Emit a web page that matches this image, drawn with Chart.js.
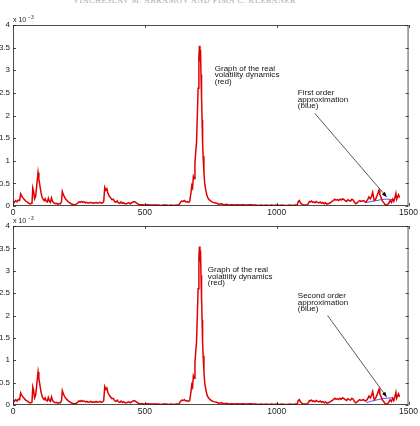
<!DOCTYPE html>
<html><head><meta charset="utf-8">
<script src="https://cdn.jsdelivr.net/npm/chart.js@4.4.1/dist/chart.umd.min.js"></script>
<style>
html,body{margin:0;padding:0;background:#fff;width:420px;height:426px;overflow:hidden;position:relative;}
canvas{position:absolute;left:0;}
#hdr{position:absolute;left:73px;top:-4px;font:8px "Liberation Serif",serif;color:#aaa;letter-spacing:0.6px;white-space:nowrap;}
</style></head><body>
<div id="hdr">VIACHESLAV M. ABRAMOV AND FIMA C. KLEBANER</div>
<div style="position:absolute;left:0;top:0;width:420px;height:218px"><canvas id="c1"></canvas></div>
<div style="position:absolute;left:0;top:213px;width:420px;height:213px"><canvas id="c2"></canvas></div>
<script>
// time index (days)
const days = [0,5,10,15,20,25,29,33,38,42,48,53,58,63,68,72,75,78,82,86,90,95,98,102,106,110,114,118,122,126,130,134,138,142,146,150,155,160,165,170,175,180,184,187,191,195,200,205,210,215,220,225,230,235,240,245,250,255,260,265,270,275,280,285,290,295,300,305,310,315,320,325,330,335,340,344,348,352,356,360,365,370,375,380,385,390,395,400,405,410,415,420,425,430,435,440,445,450,455,460,465,470,475,480,490,500,510,520,530,540,550,560,570,580,590,600,610,620,630,635,640,645,650,655,660,665,670,675,678,681,684,687,690,693,696,699,702,705,707,709,711,713,715,717,719,721,724,727,731,736,741,746,752,758,765,772,780,790,800,810,820,830,840,850,860,870,880,890,900,910,920,930,940,950,960,970,980,990,1000,1010,1020,1030,1040,1050,1060,1070,1078,1082,1086,1090,1095,1100,1108,1115,1120,1124,1128,1132,1136,1140,1145,1150,1155,1160,1165,1170,1175,1180,1185,1190,1195,1200,1205,1210,1215,1220,1225,1230,1235,1240,1245,1250,1255,1260,1265,1270,1275,1280,1285,1290,1295,1300,1305,1310,1315,1320,1325,1330,1335,1340,1345,1350,1355,1360,1364,1367,1370,1375,1380,1385,1388,1391,1395,1400,1405,1410,1415,1420,1425,1430,1435,1440,1444,1448,1452,1455,1458,1462,1466];
// real volatility (units of 1e-3)
const volatility = [0.10,0.08,0.12,0.09,0.13,0.12,0.27,0.22,0.18,0.15,0.11,0.09,0.07,0.05,0.05,0.06,0.40,0.33,0.16,0.22,0.45,0.74,0.60,0.45,0.30,0.20,0.15,0.12,0.16,0.10,0.09,0.17,0.10,0.08,0.18,0.10,0.07,0.05,0.06,0.04,0.05,0.05,0.10,0.32,0.25,0.20,0.15,0.12,0.09,0.07,0.05,0.04,0.03,0.03,0.04,0.06,0.09,0.08,0.10,0.08,0.09,0.07,0.08,0.06,0.07,0.08,0.06,0.07,0.06,0.08,0.06,0.07,0.08,0.06,0.07,0.10,0.41,0.35,0.38,0.28,0.22,0.18,0.14,0.15,0.10,0.08,0.11,0.07,0.06,0.09,0.06,0.07,0.05,0.05,0.06,0.07,0.05,0.07,0.09,0.10,0.08,0.06,0.04,0.03,0.03,0.02,0.03,0.02,0.02,0.02,0.02,0.01,0.02,0.02,0.01,0.02,0.01,0.02,0.03,0.08,0.11,0.10,0.12,0.09,0.10,0.08,0.10,0.30,0.45,0.40,0.65,0.60,0.95,1.20,1.40,2.00,2.60,3.30,3.54,3.20,3.45,2.90,2.40,1.90,1.40,1.10,0.75,0.50,0.35,0.22,0.16,0.13,0.10,0.08,0.07,0.06,0.04,0.05,0.03,0.04,0.02,0.03,0.02,0.03,0.02,0.03,0.02,0.02,0.03,0.02,0.02,0.01,0.02,0.01,0.02,0.01,0.02,0.01,0.02,0.01,0.02,0.01,0.01,0.02,0.01,0.02,0.03,0.10,0.12,0.07,0.04,0.03,0.02,0.03,0.05,0.10,0.09,0.11,0.08,0.09,0.07,0.10,0.08,0.07,0.09,0.06,0.08,0.05,0.07,0.04,0.05,0.06,0.08,0.10,0.12,0.15,0.13,0.14,0.12,0.15,0.13,0.16,0.14,0.12,0.10,0.14,0.12,0.11,0.15,0.13,0.08,0.05,0.07,0.10,0.12,0.10,0.11,0.12,0.09,0.10,0.14,0.20,0.16,0.22,0.30,0.20,0.12,0.15,0.22,0.30,0.35,0.25,0.20,0.12,0.08,0.04,0.02,0.03,0.06,0.12,0.08,0.15,0.10,0.18,0.28,0.15,0.20,0.25,0.18];
// first order approximation (blue)
const firstDays = [1335,1350,1365,1380,1395,1410,1425,1440];
const firstApprox = [0.07,0.09,0.11,0.12,0.14,0.15,0.15,0.14];
// second order approximation (blue)
const secondDays = [1340,1355,1370,1385,1400,1415,1430,1442];
const secondApprox = [0.05,0.08,0.10,0.12,0.14,0.15,0.16,0.16];
// tick labels
const xTicks = [0,500,1000,1500];
const yTicks = [0,0.5,1,1.5,2,2.5,3,3.5,4];
// annotation text
const redLabel = ["Graph of the real","volatility dynamics","(red)"];
const firstLabel = ["First order","approximation","(blue)"];
const secondLabel = ["Second order","approximation","(blue)"];

const FONT = '"Liberation Sans", Arial, sans-serif';

function pts(xv, yv){ return xv.map((x,i)=>({x:x, y:yv[i]})); }

function framePlugin(cfg){
  return {
    id:'frame',
    afterDraw(chart){
      const {ctx, chartArea:a, scales:{x,y}} = chart;
      ctx.save();
      ctx.strokeStyle='#222'; ctx.lineWidth=0.8;
      ctx.strokeRect(a.left+0.5, a.top+0.5, a.right-a.left-1, a.bottom-a.top-1);
      ctx.beginPath();
      yTicks.forEach(v=>{
        const py = Math.round(y.getPixelForValue(v))+0.5;
        ctx.moveTo(a.left, py); ctx.lineTo(a.left+3, py);
        ctx.moveTo(a.right, py); ctx.lineTo(a.right-3, py);
      });
      xTicks.forEach(v=>{
        const px = Math.round(x.getPixelForValue(v))+0.5;
        ctx.moveTo(px, a.bottom); ctx.lineTo(px, a.bottom-3);
        ctx.moveTo(px, a.top); ctx.lineTo(px, a.top+3);
      });
      ctx.stroke();
      // multiplier
      ctx.fillStyle='#222';
      ctx.font='7px '+FONT;
      ctx.textBaseline='alphabetic';
      ctx.fillText('x 10', a.left, a.top-3);
      ctx.font='5px '+FONT;
      ctx.fillText('\u22123', a.left+15, a.top-6);
      // text labels
      const drawText = (lines, dx, dy)=>{
        const px = x.getPixelForValue(dx), py = y.getPixelForValue(dy);
        ctx.save();
        ctx.translate(px, py);
        ctx.scale(1.2, 1);
        ctx.font='6.7px '+FONT;
        ctx.fillStyle='#111';
        ctx.textBaseline='top';
        lines.forEach((l,i)=>ctx.fillText(l, 0, i*6.4));
        ctx.restore();
      };
      drawText(redLabel, cfg.redAt[0], cfg.redAt[1]);
      drawText(cfg.approxLabel, cfg.approxAt[0], cfg.approxAt[1]);
      // arrow
      const x0 = x.getPixelForValue(cfg.arrow[0]), y0 = y.getPixelForValue(cfg.arrow[1]);
      const x1 = x.getPixelForValue(cfg.arrow[2]), y1 = y.getPixelForValue(cfg.arrow[3]);
      ctx.strokeStyle='#111'; ctx.lineWidth=0.7;
      ctx.beginPath(); ctx.moveTo(x0,y0); ctx.lineTo(x1,y1); ctx.stroke();
      const ang = Math.atan2(y1-y0, x1-x0);
      ctx.fillStyle='#000';
      ctx.beginPath();
      ctx.moveTo(x1,y1);
      ctx.lineTo(x1-5*Math.cos(ang)+2*Math.sin(ang), y1-5*Math.sin(ang)-2*Math.cos(ang));
      ctx.lineTo(x1-5*Math.cos(ang)-2*Math.sin(ang), y1-5*Math.sin(ang)+2*Math.cos(ang));
      ctx.closePath(); ctx.fill();
      ctx.restore();
    }
  };
}

function makeChart(id, padTop, xAxisH, blueX, blueY, cfg){
  return new Chart(document.getElementById(id), {
    type:'line',
    data:{datasets:[
      {data:pts(blueX, blueY), borderColor:'#4a4aff', borderWidth:1, pointRadius:0, tension:0.3, order:2},
      {data:pts(days, volatility), borderColor:'#e00000', borderWidth:1.5, pointRadius:0, tension:0, order:1}
    ]},
    options:{
      responsive:true, maintainAspectRatio:false, animation:false,
      layout:{padding:{top:padTop, right:11, left:0, bottom:0}},
      plugins:{legend:{display:false}, tooltip:{enabled:false}},
      scales:{
        x:{type:'linear', min:0, max:1500,
           afterBuildTicks(s){ s.ticks = xTicks.map(v=>({value:v})); },
           afterFit(s){ s.height = xAxisH; },
           grid:{display:false, drawTicks:false}, border:{display:false},
           ticks:{padding:2, maxRotation:0, autoSkip:false, color:'#222', font:{family:FONT, size:8.5},
                  callback:(v)=>String(v)}},
        y:{type:'linear', min:0, max:4,
           afterBuildTicks(s){ s.ticks = yTicks.map(v=>({value:v})); },
           afterFit(s){ s.width = 13; },
           grid:{display:false, drawTicks:false}, border:{display:false},
           ticks:{padding:3, autoSkip:false, color:'#222', font:{family:FONT, size:8},
                  callback:(v)=>String(v)}}
      }
    },
    plugins:[framePlugin(cfg)]
  });
}

makeChart('c1', 25, 12, firstDays, firstApprox, {
  redAt:[765, 3.1], approxLabel:firstLabel, approxAt:[1080, 2.56],
  arrow:[1144, 2.05, 1417, 0.2]
});
makeChart('c2', 13, 21, secondDays, secondApprox, {
  redAt:[739, 3.08], approxLabel:secondLabel, approxAt:[1080, 2.5],
  arrow:[1193, 2.0, 1417, 0.18]
});
</script>
</body></html>
